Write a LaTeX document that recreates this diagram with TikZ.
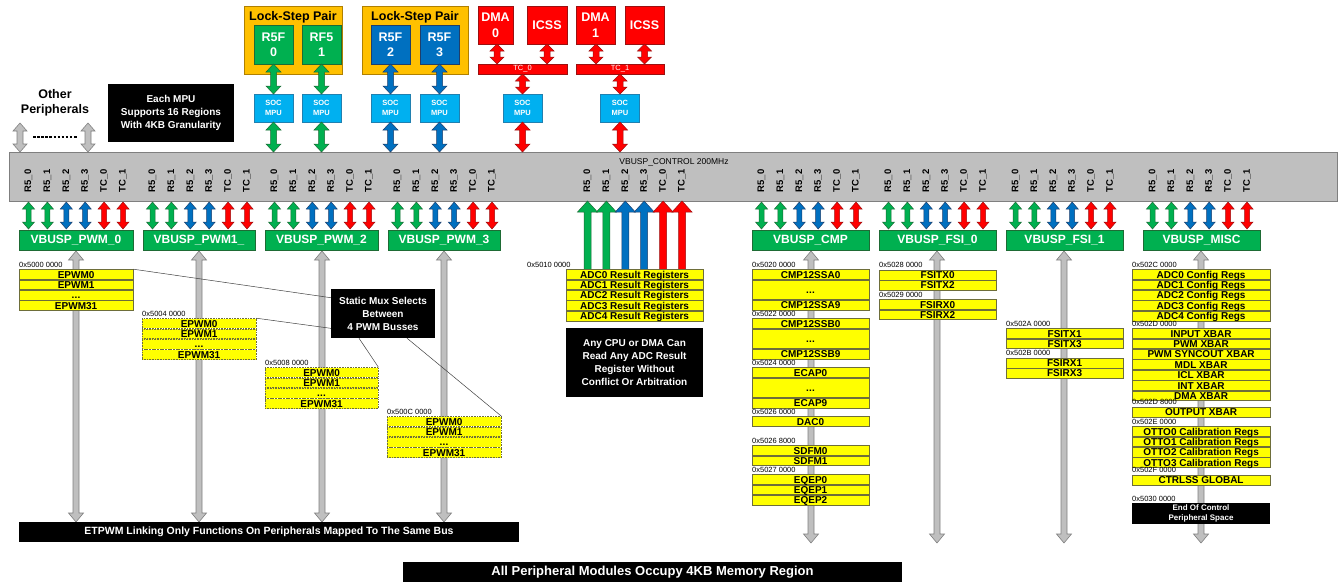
\documentclass[tikz,border=0pt]{standalone}
\usepackage{fontspec}
\setmainfont{Liberation Sans}
\usetikzlibrary{calc}
\definecolor{pg}{HTML}{00B050}
\definecolor{pgd}{HTML}{1E6B35}
\definecolor{pb}{HTML}{0070C0}
\definecolor{pbd}{HTML}{1F3F6B}
\definecolor{pr}{HTML}{FF0000}
\definecolor{prd}{HTML}{9B1010}
\definecolor{po}{HTML}{FFC000}
\definecolor{pod}{HTML}{B08000}
\definecolor{pc}{HTML}{00B0F0}
\definecolor{pcd}{HTML}{2080B0}
\definecolor{pgray}{HTML}{BFBFBF}
\definecolor{pgrayd}{HTML}{7F7F7F}
\definecolor{py}{HTML}{FFFF00}
\definecolor{pyd}{HTML}{6E6E3A}
\newcommand\fsz[2]{\fontsize{#1}{#2}\selectfont}
\newcommand\dd{.\kern0.2pt.\kern0.2pt.}
% double-headed vertical block arrow: style, x, y1, y2, half shaft, half head, head length
\newcommand\dba[7]{\filldraw[#1] (#2,#3) -- ({#2+#6},{#3+#7}) -- ({#2+#5},{#3+#7}) -- ({#2+#5},{#4-#7}) -- ({#2+#6},{#4-#7}) -- (#2,#4) -- ({#2-#6},{#4-#7}) -- ({#2-#5},{#4-#7}) -- ({#2-#5},{#3+#7}) -- ({#2-#6},{#3+#7}) -- cycle;}
% single-headed up block arrow
\newcommand\uba[7]{\filldraw[#1] (#2,#3) -- ({#2+#6},{#3+#7}) -- ({#2+#5},{#3+#7}) -- ({#2+#5},#4) -- ({#2-#5},#4) -- ({#2-#5},{#3+#7}) -- ({#2-#6},{#3+#7}) -- cycle;}
\newcommand\buslabels[2]{\foreach \lb [count=\i from 0] in {R5\_0,R5\_1,R5\_2,R5\_3,TC\_0,TC\_1}{\pgfmathsetmacro\xx{#1+9.5+18.9*\i}\node[buslbl] (#2l\i) at (\xx,181) {\lb};}}
\newcommand\busarrows[1]{\foreach \fc/\dc [count=\i from 0] in {pg/pgd,pg/pgd,pb/pbd,pb/pbd,pr/prd,pr/prd}{\pgfmathsetmacro\xx{#1+9.5+18.9*\i}\dba{fill=\fc,draw=\dc,line width=0.5pt}{\xx}{202}{229}{2.5}{6}{7}}}
\newcommand\regstack[6]{\node[inner sep=0pt,minimum size=0pt] (#5-0) at (#2,#4) {};\foreach \t/\h [count=\i, remember=\i as \j (initially 0)] in {#6}{\node[#1, minimum width=#3, minimum height=\h] (#5-\i) at (#5-\j.south west) {\t};}}
\begin{document}
\begin{tikzpicture}[x=1pt,y=-1pt,
  reg/.style={draw=pyd, fill=py, line width=0.6pt, inner sep=0pt, anchor=north west, font=\bfseries\fsz{10}{10}, text height=7.2pt, text depth=0pt, minimum height=9.8pt},
  regd/.style={reg, dash pattern=on 0.8pt off 0.8pt},
  hex/.style={font=\fsz{7.5}{8}, anchor=base west, inner sep=0pt, yshift=-1.4pt},
  grp/.style={fill=pg, draw=pgd, line width=0.5pt, text=white, font=\bfseries\fsz{12}{12}, minimum height=20, inner sep=0pt},
  blk/.style={fill=black, text=white, font=\bfseries\fsz{10}{13}, align=center, inner sep=0pt},
  core/.style={text=white, font=\bfseries\fsz{12.5}{15}, align=center, minimum width=39, minimum height=39, inner sep=0pt, line width=0.5pt},
  mpu/.style={fill=pc, draw=pcd, text=white, font=\bfseries\fsz{7.5}{10}, align=center, minimum width=39, minimum height=28, inner sep=0pt, line width=0.5pt},
  redbox/.style={fill=pr, draw=prd, text=white, font=\bfseries\fsz{12.5}{16}, align=center, minimum height=38, inner sep=0pt, line width=0.5pt},
  tcbar/.style={fill=pr, draw=prd, text=white, font=\fsz{7.5}{8}, minimum height=10, inner sep=0pt, line width=0.5pt},
  buslbl/.style={rotate=90, font=\bfseries\fsz{9.5}{10}, inner sep=0pt},
  gA/.style={fill=pg, draw=pgd, line width=0.5pt},
  bA/.style={fill=pb, draw=pbd, line width=0.5pt},
  rA/.style={fill=pr, draw=prd, line width=0.5pt},
  garrow/.style={fill=pgray, draw=pgrayd, line width=0.6pt},
  mline/.style={draw=black!75, line width=0.5pt}]
\useasboundingbox (0,0) rectangle (1338,582);

% ---------- bus ----------
\node[draw=pgrayd, fill=pgray, line width=0.7pt, minimum width=1328, minimum height=49, inner sep=0pt, anchor=north west] (bus) at (9,152) {};
\node[font=\fsz{8.5}{10}, inner sep=0pt] (busl) at (674,162) {VBUSP\_CONTROL 200MHz};

% ---------- top: lock-step pairs ----------
\node[fill=po, draw=pod, line width=0.6pt, minimum width=98, minimum height=68, inner sep=0pt, anchor=north west] (lsp1) at (244,6) {};
\node[font=\bfseries\fsz{12.5}{14}, inner sep=0pt] (lsp1t) at (293,17) {Lock-Step Pair};
\node[fill=po, draw=pod, line width=0.6pt, minimum width=106, minimum height=68, inner sep=0pt, anchor=north west] (lsp2) at (362,6) {};
\node[font=\bfseries\fsz{12.5}{14}, inner sep=0pt] (lsp2t) at (415,17) {Lock-Step Pair};
\node[core, fill=pg, draw=pgd] (r50) at (273.5,44.5) {R5F\\0};
\node[core, fill=pg, draw=pgd] (r51) at (321.5,44.5) {RF5\\1};
\node[core, fill=pb, draw=pbd] (r52) at (390.5,44.5) {R5F\\2};
\node[core, fill=pb, draw=pbd] (r53) at (439.5,44.5) {R5F\\3};
\node[mpu] (m0) at (273.5,108) {SOC\\MPU};
\node[mpu] (m1) at (321.5,108) {SOC\\MPU};
\node[mpu] (m2) at (390.5,108) {SOC\\MPU};
\node[mpu] (m3) at (439.5,108) {SOC\\MPU};
\node[mpu] (m4) at (522.5,108) {SOC\\MPU};
\node[mpu] (m5) at (620,108) {SOC\\MPU};
\dba{gA}{273.5}{64}{94}{3}{7.5}{8}
\dba{gA}{321.5}{64}{94}{3}{7.5}{8}
\dba{bA}{390.5}{64}{94}{3}{7.5}{8}
\dba{bA}{439.5}{64}{94}{3}{7.5}{8}
\dba{gA}{273.5}{122}{152}{3}{7.5}{8}
\dba{gA}{321.5}{122}{152}{3}{7.5}{8}
\dba{bA}{390.5}{122}{152}{3}{7.5}{8}
\dba{bA}{439.5}{122}{152}{3}{7.5}{8}

% ---------- top: DMA / ICSS ----------
\node[redbox, minimum width=35] (dma0) at (495.5,25) {DMA\\0};
\node[redbox, minimum width=40] (icss0) at (547,25) {ICSS};
\node[redbox, minimum width=39] (dma1) at (595.5,25) {DMA\\1};
\node[redbox, minimum width=39] (icss1) at (644.5,25) {ICSS};
\node[tcbar, minimum width=89] (tc0) at (522.5,69) {TC\_0};
\node[tcbar, minimum width=88] (tc1) at (620,69) {TC\_1};
\dba{rA}{497}{44}{64}{3}{7}{7}
\dba{rA}{547}{44}{64}{3}{7}{7}
\dba{rA}{596}{44}{64}{3}{7}{7}
\dba{rA}{644.5}{44}{64}{3}{7}{7}
\dba{rA}{522.5}{74}{94}{3}{7}{7}
\dba{rA}{620}{74}{94}{3}{7}{7}
\dba{rA}{522.5}{122}{152}{3}{7.5}{8}
\dba{rA}{620}{122}{152}{3}{7.5}{8}

% ---------- other peripherals / MPU note ----------
\node[font=\bfseries\fsz{12.5}{15}, align=center, inner sep=0pt] (oth) at (55,103) {Other\\Peripherals};
\dba{garrow}{20}{123}{152}{3}{7}{8}
\dba{garrow}{88}{123}{152}{3}{7}{8}
\draw[line width=1.3pt, dash pattern=on 2.5pt off 1.6pt] (33,137) -- (78,137);
\node[blk, minimum width=126, minimum height=58] (mpuinfo) at (171,113) {Each MPU\\Supports 16 Regions\\With 4KB Granularity};

% ---------- bus labels and arrows ----------
\buslabels{19}{a}\buslabels{143}{b}\buslabels{265}{c}\buslabels{388}{d}
\buslabels{578}{e}\buslabels{752}{f}\buslabels{879}{g}\buslabels{1006}{h}\buslabels{1143}{k}
\busarrows{19}\busarrows{143}\busarrows{265}\busarrows{388}
\busarrows{752}\busarrows{879}\busarrows{1006}\busarrows{1143}

% ADC big up arrows
\foreach \fc/\dc [count=\i from 0] in {pg/pgd,pg/pgd,pb/pbd,pb/pbd,pr/prd,pr/prd}{%
  \pgfmathsetmacro\xx{578+9.5+18.9*\i}
  \uba{fill=\fc,draw=\dc,line width=0.5pt}{\xx}{201}{270}{3.5}{10}{11}}

% ---------- gray vertical arrows ----------
\dba{garrow}{76}{251}{522}{3}{7.5}{9}
\dba{garrow}{199}{251}{522}{3}{7.5}{9}
\dba{garrow}{322}{251}{522}{3}{7.5}{9}
\dba{garrow}{444}{251}{522}{3}{7.5}{9}
\dba{garrow}{811}{251}{543}{3}{7.5}{9}
\dba{garrow}{937}{251}{543}{3}{7.5}{9}
\dba{garrow}{1064}{251}{543}{3}{7.5}{9}
\dba{garrow}{1201}{251}{543}{3}{7.5}{9}

% ---------- green bus-slave boxes ----------
\node[grp, minimum width=114] (pwm0) at (76,240) {VBUSP\_PWM\_0};
\node[grp, minimum width=112] (pwm1) at (199,240) {VBUSP\_PWM1\_};
\node[grp, minimum width=113] (pwm2) at (321.5,240) {VBUSP\_PWM\_2};
\node[grp, minimum width=112] (pwm3) at (444,240) {VBUSP\_PWM\_3};
\node[grp, minimum width=117] (cmp) at (810.5,240) {VBUSP\_CMP};
\node[grp, minimum width=117] (fsi0) at (937.5,240) {VBUSP\_FSI\_0};
\node[grp, minimum width=117] (fsi1) at (1064.5,240) {VBUSP\_FSI\_1};
\node[grp, minimum width=117] (misc) at (1201.5,240) {VBUSP\_MISC};

% ---------- PWM register blocks ----------
\node[hex] (h0) at (19,266) {0x5000 0000};
\regstack{reg}{19}{114}{269}{p0}{EPWM0/9.8,EPWM1/9.8,\dd/9.8,EPWM31/9.8}
\node[hex] (h1) at (142,315) {0x5004 0000};
\regstack{regd}{142}{114}{318}{p1}{EPWM0/9.8,EPWM1/9.8,\dd/9.8,EPWM31/9.8}
\node[hex] (h2) at (265,364) {0x5008 0000};
\regstack{regd}{265}{113}{367}{p2}{EPWM0/9.8,EPWM1/9.8,\dd/9.8,EPWM31/9.8}
\node[hex] (h3) at (387,413) {0x500C 0000};
\regstack{regd}{387}{114}{416}{p3}{EPWM0/9.8,EPWM1/9.8,\dd/9.8,EPWM31/9.8}

\node[blk, minimum width=104, minimum height=49] (mux) at (383,313.5) {Static Mux Selects\\Between\\4 PWM Busses};
\draw[mline] (p0-1.north east) -- ($(mux.north west)!0.18!(mux.south west)$);
\draw[mline] (p1-1.north east) -- ($(mux.north west)!0.8!(mux.south west)$);
\draw[mline] ($(mux.south west)!0.27!(mux.south east)$) -- (p2-1.north east);
\draw[mline] ($(mux.south west)!0.73!(mux.south east)$) -- (p3-1.north east);

% ---------- ADC result registers ----------
\node[hex] (h4) at (527,266) {0x5010 0000};
\regstack{reg}{566}{137}{269}{adc}{ADC0 Result Registers/9.8,ADC1 Result Registers/9.8,ADC2 Result Registers/9.8,ADC3 Result Registers/9.8,ADC4 Result Registers/9.8}
\node[blk, minimum width=137, minimum height=69] (adcnote) at (634.5,362.5) {Any CPU or DMA Can\\Read Any ADC Result\\Register Without\\Conflict Or Arbitration};

% ---------- CMP column ----------
\node[hex] (h5) at (752,266) {0x5020 0000};
\regstack{reg}{752}{117}{269}{ca}{CMP12SSA0/9.8,\dd/19.6,CMP12SSA9/9.8}
\node[hex] (h6) at (752,315) {0x5022 0000};
\regstack{reg}{752}{117}{318}{cb}{CMP12SSB0/9.8,\dd/19.6,CMP12SSB9/9.8}
\node[hex] (h7) at (752,364) {0x5024 0000};
\regstack{reg}{752}{117}{367}{ce}{ECAP0/9.8,\dd/19.6,ECAP9/9.8}
\node[hex] (h8) at (752,413) {0x5026 0000};
\regstack{reg}{752}{117}{416}{cd}{DAC0/9.8}
\node[hex] (h9) at (752,442) {0x5026 8000};
\regstack{reg}{752}{117}{445}{cs}{SDFM0/9.8,SDFM1/9.8}
\node[hex] (h10) at (752,471) {0x5027 0000};
\regstack{reg}{752}{117}{474}{cq}{EQEP0/9.8,EQEP1/9.8,EQEP2/9.8}

% ---------- FSI columns ----------
\node[hex] (h11) at (879,266) {0x5028 0000};
\regstack{reg}{879}{117}{269.5}{ft0}{FSITX0/9.8,FSITX2/9.8}
\node[hex] (h12) at (879,296) {0x5029 0000};
\regstack{reg}{879}{117}{299}{fr0}{FSIRX0/9.8,FSIRX2/9.8}
\node[hex] (h13) at (1006,325) {0x502A 0000};
\regstack{reg}{1006}{117}{328}{ft1}{FSITX1/9.8,FSITX3/9.8}
\node[hex] (h14) at (1006,354.5) {0x502B 0000};
\regstack{reg}{1006}{117}{357.5}{fr1}{FSIRX1/9.8,FSIRX3/9.8}

% ---------- MISC column ----------
\node[hex] (h15) at (1132,266) {0x502C 0000};
\regstack{reg}{1132}{138}{269}{ma}{ADC0 Config Regs/9.8,ADC1 Config Regs/9.8,ADC2 Config Regs/9.8,ADC3 Config Regs/9.8,ADC4 Config Regs/9.8}
\node[hex] (h16) at (1132,325) {0x502D 0000};
\regstack{reg}{1132}{138}{328}{mx}{INPUT XBAR/9.8,PWM XBAR/9.8,PWM SYNCOUT XBAR/9.8,MDL XBAR/9.8,ICL XBAR/9.8,INT XBAR/9.8,DMA XBAR/9.8}
\node[hex] (h17) at (1132,403.5) {0x502D 8000};
\regstack{reg}{1132}{138}{406.5}{mo}{OUTPUT XBAR/9.8}
\node[hex] (h18) at (1132,423) {0x502E 0000};
\regstack{reg}{1132}{138}{426}{mt}{OTTO0 Calibration Regs/9.8,OTTO1 Calibration Regs/9.8,OTTO2 Calibration Regs/9.8,OTTO3 Calibration Regs/9.8}
\node[hex] (h19) at (1132,471.5) {0x502F 0000};
\regstack{reg}{1132}{138}{474.5}{mc}{CTRLSS GLOBAL/9.8}
\node[hex] (h20) at (1132,500.5) {0x5030 0000};
\node[blk, font=\bfseries\fsz{8}{10.5}, minimum width=138, minimum height=21] (endctl) at (1201,513.5) {End Of Control\\Peripheral Space};

% ---------- bottom notes ----------
\node[blk, font=\bfseries\fsz{10.5}{12}, minimum width=500, minimum height=20] (etpwm) at (269,532) {ETPWM Linking Only Functions On Peripherals Mapped To The Same Bus};
\node[blk, font=\bfseries\fsz{13}{14}, minimum width=499, minimum height=20] (allmod) at (652.5,572) {All Peripheral Modules Occupy 4KB Memory Region};
\end{tikzpicture}
\end{document}
